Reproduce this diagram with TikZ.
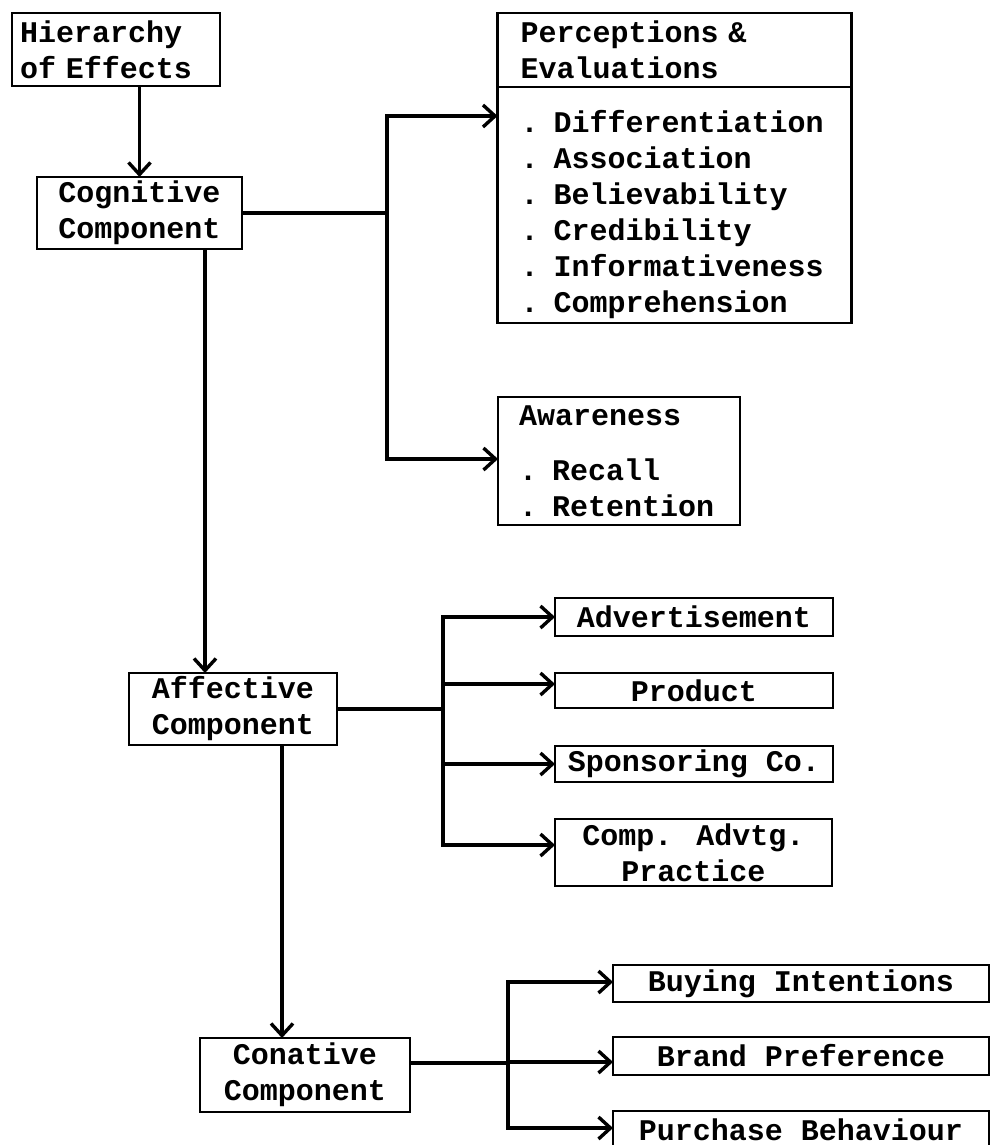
\documentclass[tikz,border=0pt]{standalone}
\usepackage{fontspec}
\newfontfamily\typew{Liberation Mono}
\usetikzlibrary{arrows.meta,positioning}

\begin{document}
\begin{tikzpicture}[x=0.5pt,y=-0.5pt,
    box/.style={draw,line width=1.3pt,outer sep=0pt,inner sep=0pt,align=center,
        font=\typew\bfseries\fontsize{15pt}{18pt}\selectfont},
    link/.style={line width=1.7pt},
    >={Straight Barb[length=6pt,width=11pt]}]
    \useasboundingbox (0,0) rectangle (992,1145);

    \node[box,align=left,text width=96pt,inner xsep=4pt,minimum height=36.5pt] (hier) at (116,49.5) {Hierarchy\\of Effects};
    \node[box,minimum width=102.5pt,minimum height=36pt] (cog) at (139.5,213) {Cognitive\\Component};
    \node[box,minimum width=104pt,minimum height=36pt] (aff) at (233,709) {Affective\\Component};
    \node[box,minimum width=105pt,minimum height=37pt] (con) at (305,1075) {Conative\\Component};

    \node[box,align=left,text width=154pt,inner xsep=11.5pt,minimum height=37pt] (percT) at (674.5,50) {Perceptions \&\\Evaluations};
    \node[box,align=left,text width=154pt,inner xsep=11.5pt,minimum height=118pt,below=0pt of percT] (perc)
        {\rule{0pt}{21pt}. Differentiation\\. Association\\. Believability\\. Credibility\\. Informativeness\\. Comprehension};
    \node[box,align=left,text width=100pt,inner xsep=10.5pt,minimum height=64pt] (aware) at (619,461) {Awareness\\[9.5pt]. Recall\\. Retention};

    \node[box,minimum width=139pt,minimum height=19pt] (adv) at (694,617) {Advertisement};
    \node[box,minimum width=139pt,minimum height=17.5pt] (prod) at (694,690.5) {Product};
    \node[box,minimum width=139pt,minimum height=18pt] (spon) at (694,764) {Sponsoring Co.};
    \node[box,minimum width=138.5pt,minimum height=33.5pt] (comp) at (693.5,852.5) {Comp. Advtg.\\Practice};

    \node[box,minimum width=188pt,minimum height=18.5pt] (buy) at (801,983.5) {Buying Intentions};
    \node[box,minimum width=188pt,minimum height=19pt] (brand) at (801,1056) {Brand Preference};
    \node[box,minimum width=188pt,minimum height=19pt] (purch) at (801,1130) {Purchase Behaviour};

    \coordinate (cogTop) at (387,116);
    \coordinate (cogBot) at (387,459);
    \coordinate (affTop) at (443,617);
    \coordinate (affBot) at (443,845);
    \coordinate (conTop) at (508,982);
    \coordinate (conBot) at (508,1128);
    \coordinate (dropA) at (205,0);
    \coordinate (dropB) at (282,0);

    \draw[link,->] (hier.south -| cog.north) -- (cog.north);
    \draw[link,->] (cog.south -| dropA) -- (aff.north -| dropA);
    \draw[link,->] (aff.south -| dropB) -- (con.north -| dropB);

    \draw[link] (cog.east) -- (cog.east -| cogTop);
    \draw[link,->] (cogBot) -- (cogTop) -- (cogTop -| perc.west);
    \draw[link,->] (cogTop) -- (cogBot) -- (cogBot -| aware.west);

    \draw[link] (aff.east) -- (aff.east -| affTop);
    \draw[link,->] (affBot) -- (affTop) -- (affTop -| adv.west);
    \draw[link,->] ([yshift=3.25pt]prod.west -| affTop) -- ([yshift=3.25pt]prod.west);
    \draw[link,->] (spon.west -| affTop) -- (spon.west);
    \draw[link,->] (affTop) -- (affBot) -- (affBot -| comp.west);

    \draw[link] ([yshift=6pt]con.east) -- ([yshift=6pt]con.east -| conTop);
    \draw[link,->] (conBot) -- (conTop) -- (conTop -| buy.west);
    \draw[link,->] ([yshift=-3pt]brand.west -| conTop) -- ([yshift=-3pt]brand.west);
    \draw[link,->] (conTop) -- (conBot) -- (conBot -| purch.west);
\end{tikzpicture}
\end{document}
